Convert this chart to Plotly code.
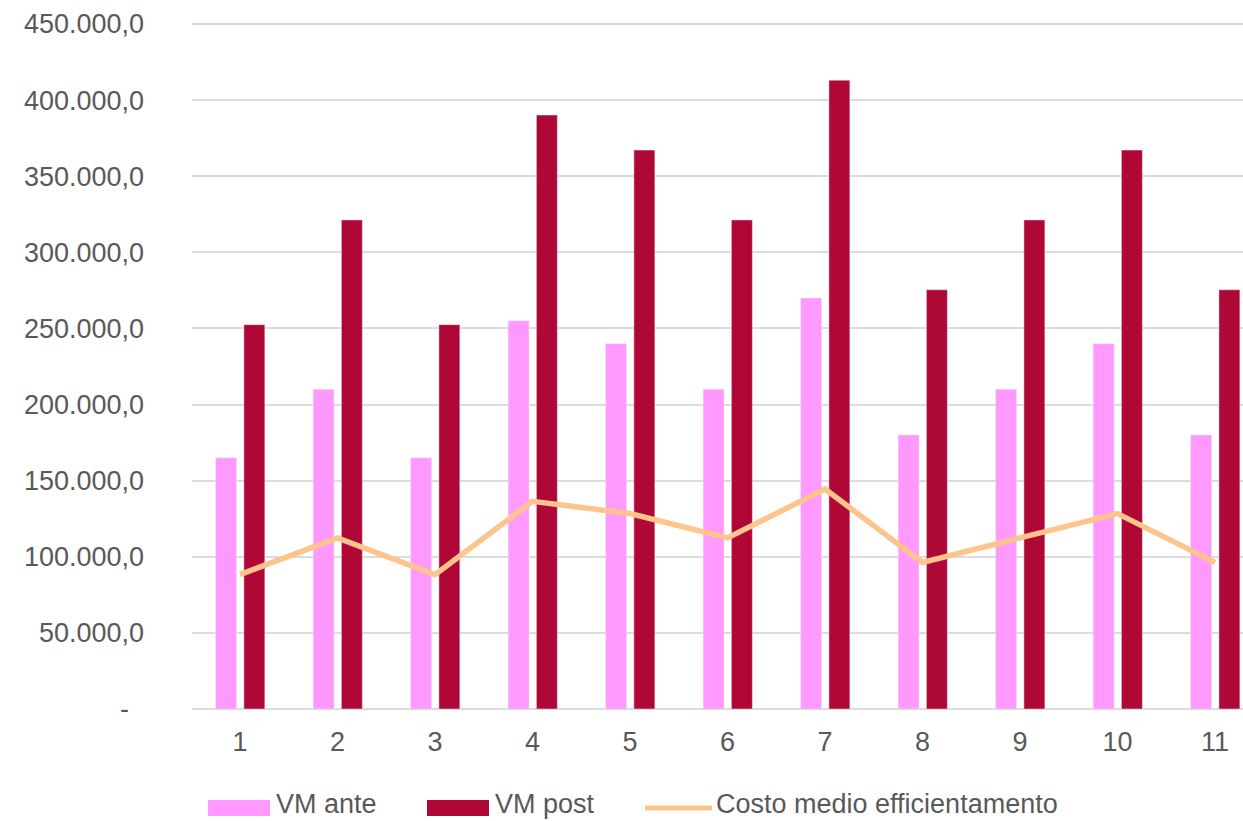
import plotly.graph_objects as go

# Data
categories = [1, 2, 3, 4, 5, 6, 7, 8, 9, 10, 11]
vm_ante = [165000, 210000, 165000, 255000, 240000, 210000, 270000, 180000, 210000, 240000, 180000]
vm_post = [252500, 321300, 252500, 390200, 367200, 321300, 413100, 275400, 321300, 367200, 275400]
costo_medio = [88300, 112400, 88300, 136400, 128400, 112400, 144500, 96300, 112400, 128400, 96300]

y_tickvals = [0, 50000, 100000, 150000, 200000, 250000, 300000, 350000, 400000, 450000]
y_ticktext = ["-\u00a0\u00a0", "50.000,0", "100.000,0", "150.000,0", "200.000,0",
              "250.000,0", "300.000,0", "350.000,0", "400.000,0", "450.000,0"]

series_names = ["VM ante", "VM post", "Costo medio efficientamento"]

C_ANTE = "#FF99FF"
C_POST = "#B00836"
C_LINE = "#FFC48C"
C_TEXT = "#595959"
FONT = "Liberation Sans, Arial, sans-serif"

W, H = 1243, 821
ML, MR, MT, MB = 192, 0, 19, 112
PW, PH = W - ML - MR, H - MT - MB
# leave a few pixels above the top gridline so it is drawn inside the plot
Y_TOP = 450000 * PH / (PH - 5)

fig = go.Figure()
fig.add_trace(go.Bar(x=categories, y=vm_ante, name=series_names[0], marker_color=C_ANTE,
                     width=0.215, offset=-0.25, showlegend=False))
fig.add_trace(go.Bar(x=categories, y=vm_post, name=series_names[1], marker_color=C_POST,
                     width=0.215, offset=0.04, showlegend=False))
fig.add_trace(go.Scatter(x=categories, y=costo_medio, name=series_names[2], mode="lines",
                         line=dict(color=C_LINE, width=5.5), showlegend=False))


def px_x(p):
    return (p - ML) / PW


def px_y(p):
    return (H - MB - p) / PH


# Legend drawn as shapes and labels
shapes = [
    dict(type="rect", xref="paper", yref="paper", x0=px_x(208), x1=px_x(270),
         y0=px_y(816), y1=px_y(800), fillcolor=C_ANTE, line_width=0, layer="above"),
    dict(type="rect", xref="paper", yref="paper", x0=px_x(427), x1=px_x(489),
         y0=px_y(816), y1=px_y(800), fillcolor=C_POST, line_width=0, layer="above"),
    dict(type="line", xref="paper", yref="paper", x0=px_x(645), x1=px_x(712),
         y0=px_y(808), y1=px_y(808), line=dict(color=C_LINE, width=5), layer="above"),
]
legend_text_x = [274, 493, 714]
annotations = [
    dict(text=name, xref="paper", yref="paper", x=px_x(lx), y=px_y(804),
         xanchor="left", yanchor="middle", showarrow=False,
         font=dict(family=FONT, size=27, color=C_TEXT))
    for name, lx in zip(series_names, legend_text_x)
]

fig.update_layout(
    width=W, height=H,
    margin=dict(l=ML, r=MR, t=MT, b=MB),
    paper_bgcolor="white", plot_bgcolor="white",
    font=dict(family=FONT, size=28, color=C_TEXT),
    barmode="overlay",
    shapes=shapes, annotations=annotations,
    xaxis=dict(range=[0.508, 11.287], tickvals=categories, ticktext=[str(c) for c in categories],
               showgrid=False, zeroline=False, showline=False, ticks="",
               ticklabelstandoff=14, tickfont=dict(size=27, color=C_TEXT)),
    yaxis=dict(range=[0, Y_TOP], tickvals=y_tickvals, ticktext=y_ticktext,
               showgrid=True, gridcolor="#DCDCDC", gridwidth=2, zeroline=True,
               zerolinecolor="#DCDCDC", zerolinewidth=2, showline=False, ticks="",
               ticklabelstandoff=47, tickfont=dict(size=27, color=C_TEXT)),
)

fig.write_html("out.html")
